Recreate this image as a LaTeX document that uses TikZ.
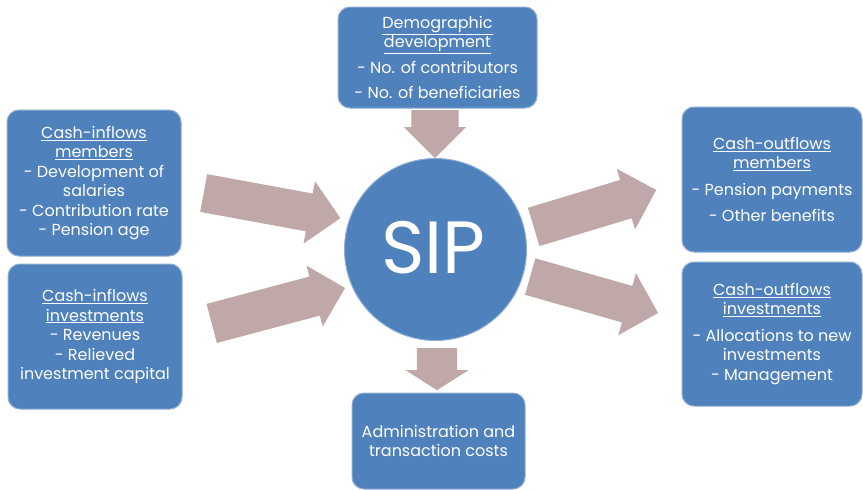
\documentclass[tikz,border=0pt]{standalone}
\usepackage{fontspec}
\setmainfont{Poppins}
\usetikzlibrary{shapes.arrows}
\definecolor{boxblue}{RGB}{79,129,189}
\definecolor{arrowrose}{RGB}{192,168,168}
\tikzset{
  infobox/.style={draw=white!35!boxblue, line width=1pt, fill=boxblue,
    rounded corners=12pt, text=white, align=center, inner sep=0pt,
    font=\fontsize{16}{19.5}\selectfont},
  flow/.style={shape=single arrow, fill=arrowrose, inner xsep=0pt, anchor=tail}
}
\begin{document}
\begin{tikzpicture}[x=1pt,y=-1pt]
  \useasboundingbox (0,0) rectangle (863,490);
  \begin{scope}[every node/.style={infobox}]
    \node[minimum width=199pt, minimum height=101pt] (demo) at (437.5,57.5)
      {\underline{Demographic}\\\underline{development}\\[6pt]
       - No. of contributors\\[6pt]- No. of beneficiaries};
    \node[minimum width=174pt, minimum height=146pt] (inmem) at (94,183)
      {\underline{Cash-inflows}\\\underline{members}\\- Development of\\salaries\\
       - Contribution rate\\- Pension age};
    \node[minimum width=174pt, minimum height=145pt] (ininv) at (95,336.5)
      {\underline{Cash-inflows}\\\underline{investments}\\- Revenues\\- Relieved\\
       investment capital};
    \node[minimum width=180pt, minimum height=145pt] (outmem) at (772,179.5)
      {\underline{Cash-outflows}\\\underline{members}\\[7pt]- Pension payments\\[7pt]
       - Other benefits};
    \node[minimum width=180pt, minimum height=144pt] (outinv) at (772,334)
      {\underline{Cash-outflows}\\\underline{investments}\\[7pt]- Allocations to new\\
       investments\\- Management};
    \node[minimum width=173pt, minimum height=96pt] (admin) at (438.5,441)
      {Administration and\\transaction costs};
  \end{scope}
  \node[circle, draw=white!35!boxblue, line width=1pt, fill=boxblue, minimum size=182pt,
    inner sep=0pt] (sip) at (435.5,249.5) {};
  \node[text=white, font=\fontsize{74}{74}\selectfont, inner sep=0pt] (siplabel) at (433.5,247.5) {SIP};
  \node[flow, rotate=-90, minimum height=48pt, inner ysep=23.5pt, single arrow head extend=7.5pt] (demoflow) at (435,110) {};
  \node[flow, rotate=-10.4, minimum height=139pt, inner ysep=19pt, single arrow head extend=12.5pt] (inmemflow) at (203.5,193) {};
  \node[flow, rotate=14.9, minimum height=138pt, inner ysep=20pt, single arrow head extend=11.3pt] (ininvflow) at (211.5,323.5) {};
  \node[flow, rotate=16.8, minimum height=128pt, inner ysep=19.8pt, single arrow head extend=11.7pt] (outmemflow) at (533.5,227) {};
  \node[flow, rotate=-15.9, minimum height=133pt, inner ysep=18.75pt, single arrow head extend=13.25pt] (outinvflow) at (530,276.5) {};
  \node[flow, rotate=-90, minimum height=42pt, inner ysep=20pt, single arrow head extend=11.5pt,
    single arrow tip angle=115] (adminflow) at (437,348) {};
\end{tikzpicture}
\end{document}
